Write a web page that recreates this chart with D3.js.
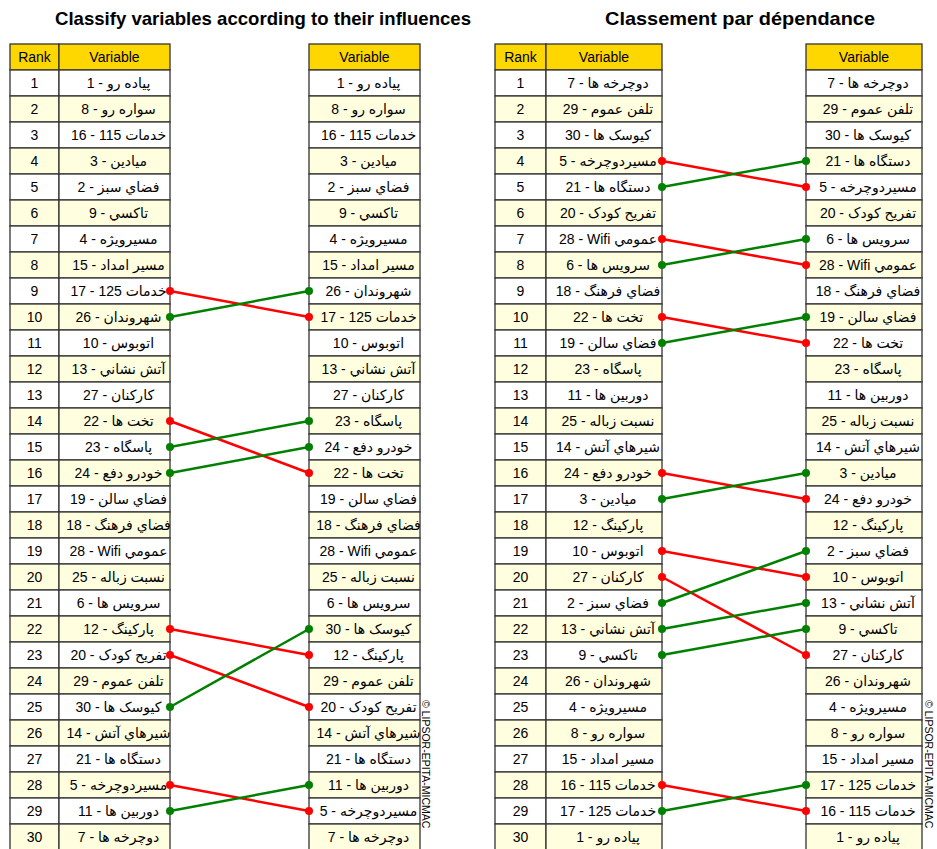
<!DOCTYPE html>
<html>
<head>
<meta charset="utf-8">
<script src="https://cdn.jsdelivr.net/npm/d3@7"></script>
<style>
  body { margin: 0; background: #fff; }
  svg text { font-family: "Liberation Sans", Arial, "DejaVu Sans", sans-serif; }
</style>
</head>
<body>
<div id="chart"></div>
<script>
// variable names, indexed by variable number - 1
var varNames = [
  "پیاده رو", "فضاي سبز", "میادین", "مسیرویژه", "مسیردوچرخه",
  "سرویس ها", "دوچرخه ها", "سواره رو", "تاکسي", "اتوبوس",
  "دوربین ها", "پارکینگ", "آتش نشاني", "شیرهاي آتش", "مسیر امداد",
  "خدمات 115", "خدمات 125", "فضاي فرهنگ", "فضاي سالن", "تفریح کودک",
  "دستگاه ها", "تخت ها", "پاسگاه", "خودرو دفع", "نسبت زباله",
  "شهروندان", "کارکنان", "Wifi عمومي", "تلفن عموم", "کیوسک ها"
];

// rank orders (variable numbers from rank 1 to 30)
var influenceDirect   = [1,8,16,3,2,9,4,15,17,26,10,13,27,22,23,24,19,18,28,25,6,12,20,29,30,14,21,5,11,7];
var influenceIndirect = [1,8,16,3,2,9,4,15,26,17,10,13,27,23,24,22,19,18,28,25,6,30,12,29,20,14,21,11,5,7];
var dependenceDirect   = [7,29,30,5,21,20,28,6,18,22,19,23,11,25,14,24,3,12,10,27,2,13,9,26,4,8,15,16,17,1];
var dependenceIndirect = [7,29,30,21,5,20,6,28,18,19,22,23,11,25,14,3,24,12,2,10,13,9,27,26,4,8,15,17,16,1];

var ranks = d3.range(1, 31);
var titles = ["Classify variables according to their influences", "Classement par dépendance"];
var credit = "© LIPSOR-EPITA-MICMAC";

var svgWidth = 937, svgHeight = 849;
var svg = d3.select("#chart").append("svg")
  .attr("width", svgWidth)
  .attr("height", svgHeight);

var headerTop = 44, headerH = 26;
var y = d3.scaleBand()
  .domain(ranks)
  .range([headerTop + headerH, headerTop + headerH + 26 * 30]);

var panels = [
  { title: titles[0], left: influenceDirect, right: influenceIndirect, titleW: 416,
    rankX: 10, varX: 59, varW: 111, rightX: 309, rightW: 111, titleX: 263, creditX: 426 },
  { title: titles[1], left: dependenceDirect, right: dependenceIndirect, titleW: 270,
    rankX: 495, varX: 546, varW: 116, rightX: 806, rightW: 116, titleX: 740, creditX: 929 }
];

// number first, name on the right (reads like the RTL source)
function label(n) { return n + " - " + varNames[n - 1]; }

panels.forEach(function(p) {
  var g = svg.append("g");

  g.append("text")
    .attr("x", p.titleX)
    .attr("y", 25)
    .attr("text-anchor", "middle")
    .attr("textLength", p.titleW)
    .attr("lengthAdjust", "spacingAndGlyphs")
    .style("font-size", "19px")
    .style("font-weight", "bold")
    .text(p.title);

  function cell(x, w, yy, h, fill) {
    g.append("rect")
      .attr("x", x).attr("y", yy)
      .attr("width", w).attr("height", h)
      .attr("fill", fill)
      .attr("stroke", "#333")
      .attr("stroke-width", 1.3);
  }
  function txt(x, yy, s) {
    g.append("text")
      .attr("x", x)
      .attr("y", yy)
      .attr("text-anchor", "middle")
      .attr("dominant-baseline", "central")
      .style("font-size", "14px")
      .text(s);
  }

  var rankW = p.varX - p.rankX;
  // headers
  cell(p.rankX, rankW, headerTop, headerH, "#ffd700");
  cell(p.varX, p.varW, headerTop, headerH, "#ffd700");
  cell(p.rightX, p.rightW, headerTop, headerH, "#ffd700");
  txt(p.rankX + rankW / 2, headerTop + headerH / 2, "Rank");
  txt(p.varX + p.varW / 2, headerTop + headerH / 2, "Variable");
  txt(p.rightX + p.rightW / 2, headerTop + headerH / 2, "Variable");

  ranks.forEach(function(r, i) {
    var fill = r % 2 === 0 ? "#ffffe0" : "#ffffff";
    var yy = y(r), h = y.bandwidth(), cy = yy + h / 2;
    cell(p.rankX, rankW, yy, h, fill);
    cell(p.varX, p.varW, yy, h, fill);
    cell(p.rightX, p.rightW, yy, h, fill);
    txt(p.rankX + rankW / 2, cy, r);
    txt(p.varX + p.varW / 2 + 4, cy, label(p.left[i]));
    txt(p.rightX + p.rightW / 2 + 4, cy, label(p.right[i]));
  });

  // lines for variables that changed rank
  var moves = p.left.map(function(v, i) {
    return { from: i + 1, to: p.right.indexOf(v) + 1 };
  }).filter(function(m) { return m.from !== m.to; });

  var x1 = p.varX + p.varW, x2 = p.rightX;
  var mid = y.bandwidth() / 2;
  moves.forEach(function(m) {
    var col = m.to > m.from ? "#ff0000" : "#008000";
    g.append("line")
      .attr("x1", x1).attr("y1", y(m.from) + mid)
      .attr("x2", x2).attr("y2", y(m.to) + mid)
      .attr("stroke", col)
      .attr("stroke-width", 2.5);
    g.append("circle").attr("cx", x1).attr("cy", y(m.from) + mid).attr("r", 4).attr("fill", col);
    g.append("circle").attr("cx", x2).attr("cy", y(m.to) + mid).attr("r", 4).attr("fill", col);
  });

  g.append("text")
    .attr("transform", "translate(" + p.creditX + ",700) rotate(90)")
    .attr("dominant-baseline", "central")
    .style("font-size", "10.5px")
    .text(credit);
});
</script>
</body>
</html>
